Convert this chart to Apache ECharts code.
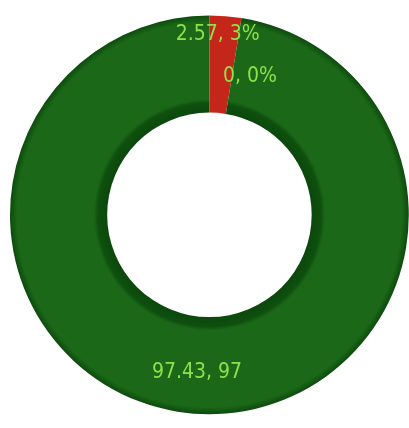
<!DOCTYPE html>
<html><head><meta charset="utf-8">
<script src="https://cdn.jsdelivr.net/npm/echarts@6/dist/echarts.min.js"></script>
<style>html,body{margin:0;padding:0;background:#fff}#c{width:409px;height:428px}</style>
</head><body><div id="c"></div>
<script>
const names = ['A', 'B', 'C'];
const values = [2.57, 0, 97.43];
const labelTexts = ['2.57, 3%', '0, 0%', '97.43, 97'];
const colors = ['#c4261a', '#1b6818', '#1b6818'];

function ringGradient(c) {
  return {
    type: 'radial', x: 0.5, y: 0.5, r: 0.5,
    colorStops: [
      { offset: 0.5, color: '#0b450c' },
      { offset: 0.56, color: '#0e500e' },
      { offset: 0.58, color: c },
      { offset: 0.965, color: c },
      { offset: 1, color: '#0d4a0d' }
    ]
  };
}

const labelOffsets = [[-4, -27], [-56, 73], [0, 4]];

const chart = echarts.init(document.getElementById('c'));
chart.setOption({
  animation: false,
  series: [{
    type: 'pie',
    center: ['51.2%', '50.2%'],
    radius: ['50%', '97.5%'],
    startAngle: 90,
    clockwise: true,
    minAngle: 0,
    avoidLabelOverlap: false,
    label: {
      show: true,
      position: 'inside',
      color: '#8ee04c',
      fontSize: 21,
      fontFamily: 'DejaVu Sans Condensed, DejaVu Sans',
      formatter: p => labelTexts[p.dataIndex]
    },
    labelLine: { show: false },
    labelLayout: { hideOverlap: false },
    data: names.map((n, i) => ({
      name: n,
      value: values[i],
      label: i === 1
        ? { position: 'outside', offset: labelOffsets[i] }
        : { offset: labelOffsets[i] },
      itemStyle: { color: i === 0 ? colors[0] : ringGradient(colors[i]) }
    }))
  }]
});
</script></body></html>
